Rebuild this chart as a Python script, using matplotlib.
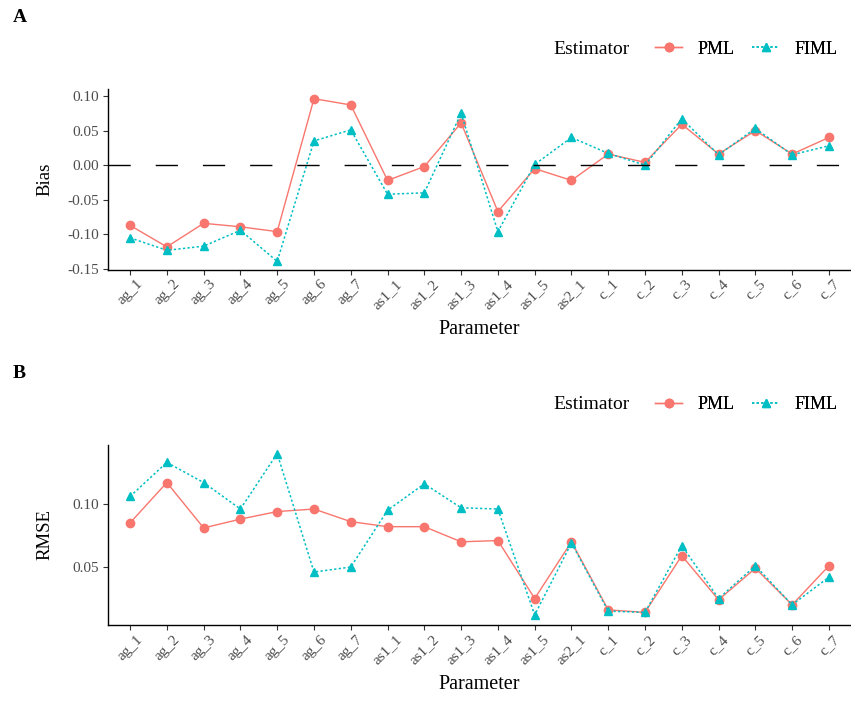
import numpy as np
import matplotlib.pyplot as plt
from matplotlib.lines import Line2D

plt.rcParams['font.family'] = ['Liberation Serif', 'DejaVu Serif']

# Parameters on the x axis
params = ['ag_1', 'ag_2', 'ag_3', 'ag_4', 'ag_5', 'ag_6', 'ag_7',
          'as1_1', 'as1_2', 'as1_3', 'as1_4', 'as1_5', 'as2_1',
          'c_1', 'c_2', 'c_3', 'c_4', 'c_5', 'c_6', 'c_7']

# Bias (panel A)
bias_pml = [-0.087, -0.118, -0.084, -0.089, -0.096, 0.096, 0.087,
            -0.022, -0.002, 0.061, -0.067, -0.005, -0.022,
            0.016, 0.004, 0.059, 0.016, 0.050, 0.016, 0.040]
bias_fiml = [-0.105, -0.123, -0.117, -0.094, -0.139, 0.035, 0.051,
             -0.042, -0.040, 0.075, -0.096, 0.001, 0.040,
             0.017, 0.000, 0.067, 0.015, 0.053, 0.015, 0.028]

# RMSE (panel B)
rmse_pml = [0.085, 0.117, 0.081, 0.088, 0.094, 0.096, 0.086,
            0.082, 0.082, 0.070, 0.071, 0.025, 0.070,
            0.016, 0.014, 0.059, 0.024, 0.049, 0.020, 0.051]
rmse_fiml = [0.106, 0.133, 0.117, 0.096, 0.140, 0.046, 0.050,
             0.095, 0.116, 0.097, 0.096, 0.012, 0.069,
             0.015, 0.014, 0.067, 0.025, 0.051, 0.020, 0.042]

pml_col = '#F8766D'
fiml_col = '#00BFC4'

W, H = 851, 701
fig = plt.figure(figsize=(W / 100, H / 100), dpi=100)

def px_axes(left, top, right, bottom):
    return fig.add_axes([left / W, 1 - bottom / H, (right - left) / W, (bottom - top) / H])

ax_a = px_axes(108, 89, 851, 269.5)
ax_b = px_axes(108, 445, 851, 625)

x = np.arange(len(params))

def draw(ax, pml, fiml, ylabel, yticks, ylim):
    ax.plot(x, pml, color=pml_col, lw=1.0, marker='o', ms=6, label='PML')
    ax.plot(x, fiml, color=fiml_col, lw=1.1, ls=(0, (1.5, 1.5)), marker='^', ms=6, label='FIML')
    ax.set_xlim(-0.6, len(params) - 0.4)
    ax.set_ylim(*ylim)
    ax.set_yticks(yticks)
    ax.set_yticklabels([f'{v:.2f}' for v in yticks])
    ax.set_xticks(x)
    ax.set_xticklabels(params, rotation=45, ha='center', va='top')
    for s in ['top', 'right']:
        ax.spines[s].set_visible(False)
    for s in ['left', 'bottom']:
        ax.spines[s].set_linewidth(1.0)
        ax.spines[s].set_color('black')
    ax.tick_params(axis='both', length=3.5, width=0.8, color='#333333',
                   labelcolor='#4D4D4D', labelsize=11)
    ax.tick_params(axis='y', pad=3)
    ax.tick_params(axis='x', pad=2)
    ax.set_xlabel('Parameter', fontsize=14.5, va='center')
    ax.xaxis.set_label_coords(0.5, -60 / 180.5)
    ax.set_ylabel(ylabel, fontsize=13.5, va='center')
    ax.yaxis.set_label_coords(-63 / 743, 0.5)

draw(ax_a, bias_pml, bias_fiml, 'Bias', [-0.15, -0.10, -0.05, 0.00, 0.05, 0.10], (-0.1507, 0.110))
ax_a.axhline(0, color='black', lw=1.0, dashes=(16, 18), zorder=3)
draw(ax_b, rmse_pml, rmse_fiml, 'RMSE', [0.05, 0.10], (0.004, 0.1468))

handles = [Line2D([], [], color=pml_col, lw=1.0, marker='o', ms=6),
           Line2D([], [], color=fiml_col, lw=1.1, ls=(0, (1.5, 1.5)), marker='^', ms=6)]

for tag, ty in [('A', 17), ('B', 373)]:
    fig.text(13 / W, 1 - ty / H, tag, fontsize=14, fontweight='bold', ha='left', va='center')
    ly = ty + 32
    fig.text(553 / W, 1 - ly / H, 'Estimator', fontsize=14, ha='left', va='center')
    leg = fig.legend(handles, ['PML', 'FIML'], loc='center left',
                     bbox_to_anchor=(655 / W, 1 - ly / H), ncol=2, frameon=False,
                     fontsize=13, handlelength=1.5, handletextpad=0.83,
                     columnspacing=1.0, borderpad=0, borderaxespad=0)
    fig.add_artist(leg)

fig.savefig('out.png', dpi=100)
